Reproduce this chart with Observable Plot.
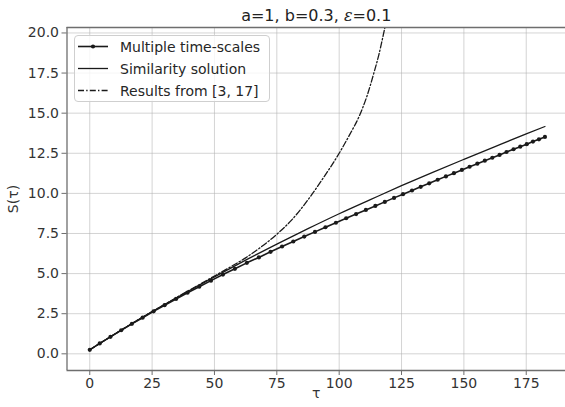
<!DOCTYPE html>
<html>
<head>
<meta charset="utf-8">
<script src="https://cdn.jsdelivr.net/npm/d3@7"></script>
<script src="https://cdn.jsdelivr.net/npm/@observablehq/plot@0.6"></script>
<style>
html, body { margin: 0; padding: 0; background: #fff; overflow: hidden; }
#chart { width: 565px; height: 407px; }
</style>
</head>
<body>
<div id="chart"></div>
<script>
// ---- data ----
const tauMTS = [0, 4.0, 8.3, 12.6, 16.9, 21.2, 25.6, 30.0, 34.6, 39.2, 43.9, 48.6, 53.4, 58.2, 63.0, 67.8, 72.5, 77.1, 81.6, 86.0, 90.3, 94.5, 98.7, 102.8, 106.8, 110.7, 114.5, 118.3, 122.0, 125.6, 129.2, 132.7, 136.1, 139.5, 142.8, 146.0, 149.2, 152.3, 155.4, 158.4, 161.4, 164.3, 167.1, 169.9, 172.6, 175.2, 177.7, 180.1, 182.5];
const sMTS = [0.25, 0.65, 1.06, 1.47, 1.87, 2.25, 2.65, 3.03, 3.42, 3.81, 4.18, 4.56, 4.94, 5.30, 5.67, 6.01, 6.36, 6.69, 7.00, 7.31, 7.60, 7.89, 8.17, 8.45, 8.71, 8.97, 9.22, 9.47, 9.72, 9.95, 10.18, 10.41, 10.63, 10.85, 11.06, 11.26, 11.46, 11.66, 11.85, 12.04, 12.22, 12.40, 12.58, 12.75, 12.91, 13.07, 13.23, 13.37, 13.52];

const tauSim = [0, 12.5, 25, 37.5, 50, 62.5, 75, 87.5, 100, 112.5, 125, 137.5, 150, 162.5, 175, 182.5];
const sSim = [0.25, 1.47, 2.63, 3.73, 4.80, 5.84, 6.84, 7.80, 8.73, 9.61, 10.48, 11.31, 12.12, 12.92, 13.71, 14.17];

const tauRef = [0, 12.5, 25, 37.5, 50, 56, 62.5, 68, 75, 81, 87.5, 94, 100, 104, 108, 111, 114, 116, 118, 120];
const sRef = [0.25, 1.47, 2.63, 3.75, 4.85, 5.38, 5.98, 6.58, 7.45, 8.35, 9.60, 11.05, 12.50, 13.60, 14.80, 16.00, 17.55, 18.70, 20.10, 21.60];

const xTicks = [0, 25, 50, 75, 100, 125, 150, 175];
const yTicks = [0, 2.5, 5, 7.5, 10, 12.5, 15, 17.5, 20];
const xDomain = [-9.125, 191.625];
const yDomain = [-1.04, 20.34];

const titleParts = ["a=1, b=0.3, ", "ε", "=0.1"];
const title = titleParts.join("");
const xLabel = "τ";
const yLabel = "S(τ)";
const legendLabels = ["Multiple time-scales", "Similarity solution", "Results from [3, 17]"];

// ---- build tables ----
const mts = tauMTS.map((t, i) => ({t, s: sMTS[i]}));
const sim = tauSim.map((t, i) => ({t, s: sSim[i]}));
const ref = tauRef.map((t, i) => ({t, s: sRef[i]}));

const ink = "#1a1a1a";
const spine = "#6e6e6e";
const dashDot = "6,2.2,1.4,2.2";
const font = "'DejaVu Sans', sans-serif";

const chart = Plot.plot({
  width: 565,
  height: 407,
  marginTop: 27,
  marginBottom: 37,
  marginLeft: 66.5,
  marginRight: 0,
  style: {fontFamily: font, fontSize: "14px", color: "#333", background: "#fff", overflow: "hidden"},
  x: {domain: xDomain, range: [66.5, 567.2]},
  y: {domain: yDomain, range: [370, 27]},
  marks: [
    Plot.gridX(xTicks, {stroke: "#b0b0b0", strokeOpacity: 0.55, strokeWidth: 1}),
    Plot.gridY(yTicks, {stroke: "#b0b0b0", strokeOpacity: 0.55, strokeWidth: 1}),
    Plot.line(ref, {x: "t", y: "s", stroke: ink, strokeWidth: 1.3, strokeDasharray: dashDot, clip: true, curve: "monotone-x"}),
    Plot.line(sim, {x: "t", y: "s", stroke: ink, strokeWidth: 1.3, clip: true, curve: "monotone-x"}),
    Plot.line(mts, {x: "t", y: "s", stroke: ink, strokeWidth: 1.6}),
    Plot.dot(mts, {x: "t", y: "s", r: 2.1, fill: ink, stroke: null}),
    Plot.ruleX([xDomain[0]], {stroke: spine, strokeWidth: 1.3}),
    Plot.ruleY(yDomain, {stroke: spine, strokeWidth: 1.3}),
    Plot.axisX(xTicks, {tickSize: 5, tickPadding: 3, stroke: spine, fill: "#333", label: null, fontSize: 14}),
    Plot.axisY(yTicks, {tickSize: 5, tickPadding: 3, stroke: spine, fill: "#333", label: null, fontSize: 14, tickFormat: d => d.toFixed(1)}),
    Plot.text([title], {text: d => d, frameAnchor: "top", dy: -12, lineAnchor: "middle", fontSize: 16, fill: "#222"}),
    Plot.text([xLabel], {text: d => d, frameAnchor: "bottom", dy: 23, lineAnchor: "middle", fontSize: 14, fill: "#333"}),
    Plot.text([yLabel], {text: d => d, frameAnchor: "left", dx: -53, rotate: -90, textAnchor: "middle", lineAnchor: "middle", fontSize: 14, fill: "#333"})
  ]
});

document.getElementById("chart").appendChild(chart);

// italic epsilon in the title (as matplotlib mathtext)
const svg = d3.select(chart);
svg.selectAll("text").each(function() {
  if (this.textContent === title) {
    const t = d3.select(this);
    t.text(null);
    titleParts.forEach((p, i) => {
      const ts = t.append("tspan").text(p);
      if (i === 1) ts.attr("font-style", "italic").attr("font-family", "'DejaVu Serif', serif");
    });
  }
});

// legend (inside the axes, upper left)
const lg = svg.append("g")
  .attr("font-family", font).attr("font-size", 14).attr("fill", "#262626")
  .attr("text-anchor", "start");
lg.append("rect")
  .attr("x", 74.5).attr("y", 35.5).attr("width", 195).attr("height", 66).attr("rx", 3.5)
  .attr("fill", "white").attr("fill-opacity", 0.8).attr("stroke", "#cfcfcf").attr("stroke-width", 1);
const rowY = [46.5, 68.5, 90.5];
legendLabels.forEach((lab, i) => {
  const y = rowY[i];
  const ln = lg.append("line").attr("x1", 78).attr("x2", 108).attr("y1", y).attr("y2", y)
    .attr("stroke", ink).attr("stroke-width", i === 0 ? 1.6 : 1.3);
  if (i === 2) ln.attr("stroke-dasharray", dashDot);
  if (i === 0) lg.append("circle").attr("cx", 93).attr("cy", y).attr("r", 2.1).attr("fill", ink);
  lg.append("text").attr("x", 120).attr("y", y).attr("dy", "0.36em")
    .attr("text-anchor", "start").text(lab);
});
</script>
</body>
</html>
